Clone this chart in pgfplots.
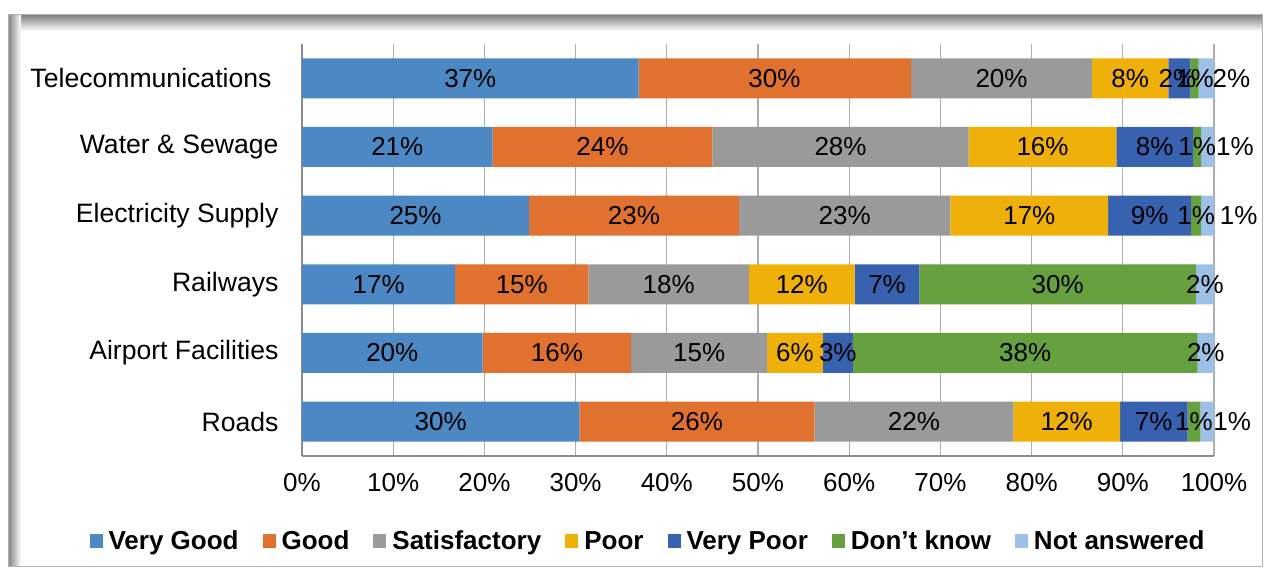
\documentclass[border=0pt]{standalone}
\usepackage{fontspec}
\setmainfont{Liberation Sans}
\usepackage{pgfplots}
\usepackage{pgfplotstable}
\pgfplotsset{compat=1.18}
\definecolor{cVG}{HTML}{4C88C4}
\definecolor{cG}{HTML}{E1712F}
\definecolor{cS}{HTML}{9A9A9A}
\definecolor{cP}{HTML}{EFB00A}
\definecolor{cVP}{HTML}{3862B0}
\definecolor{cDK}{HTML}{66A03F}
\definecolor{cNA}{HTML}{9DC0E6}
\pgfplotstableread{
y vg good sat poor vp dk na
0 30.4 25.8 21.8 11.7 7.4 1.4 1.5
1 19.8 16.3 14.9 6.1 3.3 37.8 1.8
2 16.8 14.6 17.6 11.6 7.1 30.3 2.0
3 24.9 23.0 23.2 17.3 9.1 1.1 1.4
4 20.9 24.1 28.1 16.2 8.4 0.9 1.4
5 36.9 29.9 19.8 8.4 2.4 0.9 1.7
}\bars
\pgfplotstableread{
x y l
15.2 0 30
43.3 0 26
67.1 0 22
83.85 0 12
93.4 0 7
97.8 0 1
102.0 0 1
9.9 1 20
27.95 1 16
43.55 1 15
54.05 1 6
58.75 1 3
79.3 1 38
99.1 1 2
8.4 2 17
24.1 2 15
40.2 2 18
54.8 2 12
64.15 2 7
82.85 2 30
99.0 2 2
12.45 3 25
36.4 3 23
59.5 3 23
79.75 3 17
92.95 3 9
98.05 3 1
102.7 3 1
10.45 4 21
32.95 4 24
59.05 4 28
81.2 4 16
93.5 4 8
98.15 4 1
102.3 4 1
18.45 5 37
51.8 5 30
76.7 5 20
90.8 5 8
96.0 5 2
97.9 5 1
101.9 5 2
}\labels
\newcommand{\bigfont}{\fontsize{26}{31}\selectfont}
\newcommand{\catfont}{\fontsize{26.6}{31}\selectfont}
\begin{document}
\begin{tikzpicture}[x=1pt,y=1pt]
\useasboundingbox (0,0) rectangle (1265,572);
\fill[white] (0,0) rectangle (1265,572);
\shade[top color=black!50, bottom color=white] (8,541) rectangle (1262,557);
\shade[left color=black!50, right color=white] (8,5) rectangle (21,557);
\draw[black!30, line width=1pt] (8,5) rectangle (1262,557);
\begin{axis}[
  at={(302pt,116pt)}, anchor=south west,
  scale only axis, width=912pt, height=412pt,
  xbar stacked, bar width=40pt,
  xmin=0, xmax=100, ymin=-0.5, ymax=5.5,
  axis x line*=bottom, axis y line*=left,
  axis line style={draw=black!45, line width=1.5pt},
  xmajorgrids, major grid style={draw=black!32, line width=1.3pt},
  major tick length=0pt,
  xtick={0,10,20,30,40,50,60,70,80,90,100},
  xticklabels={0\%,10\%,20\%,30\%,40\%,50\%,60\%,70\%,80\%,90\%,100\%},
  ytick={0,1,2,3,4,5},
  yticklabels={Roads,Airport Facilities,Railways,Electricity Supply,Water \& Sewage,Telecommunications\hspace*{7pt}},
  xticklabel style={font=\bigfont, yshift=-14pt},
  yticklabel style={font=\catfont, xshift=-20pt},
  legend style={at={(0.3794,-0.206)}, anchor=center, draw=none, fill=none,
    legend columns=-1, font=\bfseries\bigfont, inner sep=0pt,
    /tikz/every even column/.append style={column sep=22pt}},
  legend image code/.code={\fill[#1] (0pt,-7pt) rectangle (13pt,7pt); \path (17pt,0pt);},
]
\addplot[fill=cVG, draw=none] table[x=vg,y=y]{\bars};
\addplot[fill=cG, draw=none] table[x=good,y=y]{\bars};
\addplot[fill=cS, draw=none] table[x=sat,y=y]{\bars};
\addplot[fill=cP, draw=none] table[x=poor,y=y]{\bars};
\addplot[fill=cVP, draw=none] table[x=vp,y=y]{\bars};
\addplot[fill=cDK, draw=none] table[x=dk,y=y]{\bars};
\addplot[fill=cNA, draw=none] table[x=na,y=y]{\bars};
\legend{Very Good,Good,Satisfactory,Poor,Very Poor,Don’t know,Not answered}
\end{axis}
\begin{axis}[
  at={(302pt,116pt)}, anchor=south west,
  scale only axis, width=912pt, height=412pt,
  xmin=0, xmax=100, ymin=-0.5, ymax=5.5,
  hide axis, clip=false,
]
\addplot[only marks, mark=*, mark size=0pt, mark options={draw=none, fill=none},
  point meta=explicit symbolic,
  nodes near coords={\pgfplotspointmeta\%},
  nodes near coords style={anchor=center, text=black, font=\bigfont, inner sep=0pt}]
  table[x=x, y=y, meta=l]{\labels};
\end{axis}
\end{tikzpicture}
\end{document}
